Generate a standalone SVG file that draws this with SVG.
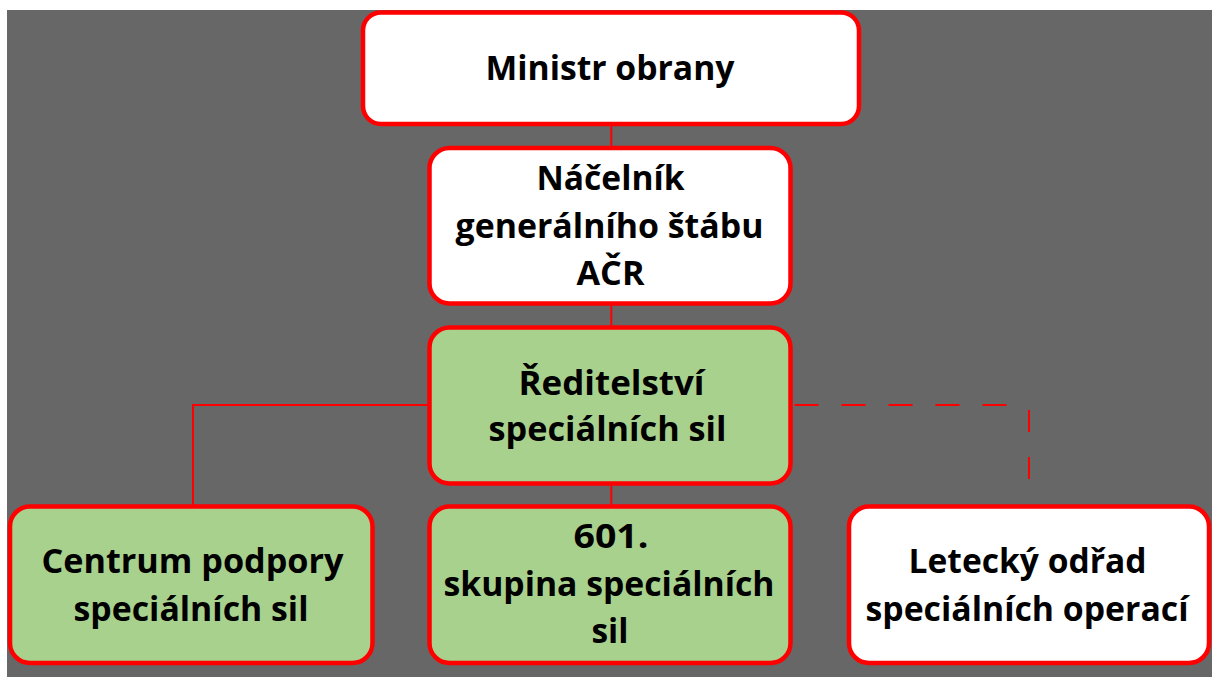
<svg xmlns="http://www.w3.org/2000/svg" width="1212" height="677" viewBox="0 0 1212 677">
<style>
.bg{fill:#676767}
.box{stroke:#ff0000;stroke-width:4.5}
.w{fill:#ffffff}
.g{fill:#a9d18e}
.t{font-family:"Open Sans","Noto Sans","DejaVu Sans",sans-serif;font-weight:bold;font-size:34px;fill:#000000;text-anchor:middle}
.c{stroke:#ff0000;stroke-width:2;fill:none}
.d{stroke-dasharray:24 23;stroke-dashoffset:43}
</style>
<rect x="0" y="0" width="1212" height="677" fill="#ffffff"/>
<rect class="bg" x="7" y="10" width="1205" height="667"/>
<g id="connectors">
<line class="c" x1="611.3" y1="124" x2="611.3" y2="148"/>
<line class="c" x1="611.3" y1="303.5" x2="611.3" y2="327.5"/>
<line class="c" x1="611.3" y1="483.3" x2="611.3" y2="506.5"/>
<polyline class="c" points="429.5,405 193,405 193,506.5"/>
<polyline class="c d" points="790.5,405 1008,405"/>
<line class="c" x1="1029" y1="410" x2="1029" y2="432"/>
<line class="c" x1="1029" y1="457" x2="1029" y2="479"/>
</g>
<g id="n-ministr">
<rect class="box w" x="363" y="12.5" width="496" height="111.5" rx="18"/>
<text class="t" x="610" y="80" textLength="249" lengthAdjust="spacingAndGlyphs">Ministr obrany</text>
</g>
<g id="n-nacelnik">
<rect class="box w" x="429.5" y="148" width="361" height="155.5" rx="20"/>
<text class="t" x="610.5" y="190" textLength="148" lengthAdjust="spacingAndGlyphs">Náčelník</text>
<text class="t" x="609.5" y="237.5" textLength="308" lengthAdjust="spacingAndGlyphs">generálního štábu</text>
<text class="t" x="610.5" y="285" textLength="68" lengthAdjust="spacingAndGlyphs">AČR</text>
</g>
<g id="n-reditelstvi">
<rect class="box g" x="429.5" y="327.5" width="361" height="156" rx="20"/>
<text class="t" x="611.5" y="395" textLength="186" lengthAdjust="spacingAndGlyphs">Ředitelství</text>
<text class="t" x="607.5" y="441" textLength="238" lengthAdjust="spacingAndGlyphs">speciálních sil</text>
</g>
<g id="n-centrum">
<rect class="box g" x="10" y="506.5" width="362.5" height="156.5" rx="20"/>
<text class="t" x="192.5" y="573" textLength="302" lengthAdjust="spacingAndGlyphs">Centrum podpory</text>
<text class="t" x="191" y="621" textLength="235" lengthAdjust="spacingAndGlyphs">speciálních sil</text>
</g>
<g id="n-601">
<rect class="box g" x="429.5" y="506.5" width="361" height="156.5" rx="20"/>
<text class="t" x="611" y="548" textLength="75" lengthAdjust="spacingAndGlyphs">601.</text>
<text class="t" x="609" y="596" textLength="331" lengthAdjust="spacingAndGlyphs">skupina speciálních</text>
<text class="t" x="610" y="643" textLength="37" lengthAdjust="spacingAndGlyphs">sil</text>
</g>
<g id="n-letecky">
<rect class="box w" x="849" y="506.5" width="360" height="156.5" rx="20"/>
<text class="t" x="1027.5" y="573" textLength="238" lengthAdjust="spacingAndGlyphs">Letecký odřad</text>
<text class="t" x="1027" y="621" textLength="323" lengthAdjust="spacingAndGlyphs">speciálních operací</text>
</g>
</svg>
